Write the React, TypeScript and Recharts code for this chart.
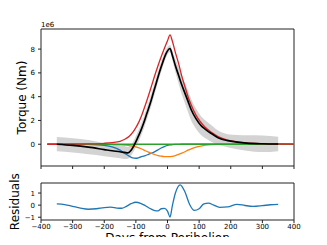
import React from 'react';
import { ComposedChart, Line, Area, XAxis, YAxis, ReferenceLine } from 'recharts';

// ---------- data ----------
const xTicks = [-400, -300, -200, -100, 0, 100, 200, 300, 400];
const torqueTicks = [0, 2, 4, 6, 8];
const residualTicks = [-1, 0, 1];

// model components (units of 1e6 Nm)
const compDays = [-380, -350, -300, -250, -200, -175, -150, -135, -120, -110, -100, -90, -80, -70, -60, -50, -40, -30, -20, -10, 0, 8, 15, 25, 35, 45, 55, 65, 75, 90, 105, 120, 140, 160, 190, 220, 250, 300, 350, 400];
const redVals = [0, 0, 0.01, 0.03, 0.08, 0.14, 0.25, 0.42, 0.7, 1.0, 1.4, 1.9, 2.55, 3.3, 4.1, 4.95, 5.8, 6.6, 7.35, 8.05, 8.7, 9.2, 8.7, 7.7, 6.8, 5.75, 4.85, 4.0, 3.3, 2.45, 1.85, 1.4, 0.98, 0.65, 0.35, 0.2, 0.11, 0.05, 0.02, 0.01];
const blueVals = [0, 0, 0, -0.02, -0.1, -0.22, -0.5, -0.78, -1.02, -1.15, -1.18, -1.12, -1.03, -0.95, -0.85, -0.75, -0.62, -0.47, -0.32, -0.2, -0.1, -0.06, -0.04, -0.02, -0.01, 0, 0, 0, 0, 0, 0, 0, 0, 0, 0, 0, 0, 0, 0, 0];
const orangeVals = [0, 0, 0, 0, -0.01, -0.02, -0.04, -0.07, -0.11, -0.16, -0.22, -0.31, -0.42, -0.55, -0.67, -0.78, -0.87, -0.95, -1.0, -1.04, -1.05, -1.05, -1.02, -0.95, -0.86, -0.75, -0.63, -0.5, -0.39, -0.25, -0.15, -0.08, -0.03, -0.01, 0, 0, 0, 0, 0, 0];
const greenDays = [-380, 400];
const greenVals = [0, 0];

// observed torque with uncertainty band
const obsDays = [-350, -300, -250, -200, -175, -150, -135, -125, -115, -105, -95, -85, -75, -65, -55, -45, -35, -25, -15, -5, 8, 15, 25, 35, 45, 55, 65, 75, 90, 105, 120, 140, 160, 190, 220, 250, 300, 350];
const blackVals = [0, -0.1, -0.25, -0.45, -0.55, -0.63, -0.69, -0.72, -0.5, -0.05, 0.5, 1.1, 1.8, 2.6, 3.4, 4.3, 5.2, 6.1, 6.9, 7.6, 8.05, 7.5, 6.6, 5.8, 5.0, 4.3, 3.6, 2.9, 2.15, 1.6, 1.25, 0.88, 0.55, 0.3, 0.18, 0.1, 0.04, 0.02];
const bandHigh = [0.6, 0.5, 0.35, 0.1, 0.0, -0.08, -0.14, -0.22, -0.05, 0.4, 1.0, 1.6, 2.3, 3.1, 3.9, 4.8, 5.65, 6.55, 7.3, 7.95, 8.35, 7.9, 7.15, 6.5, 5.8, 5.15, 4.5, 3.8, 3.0, 2.4, 2.0, 1.58, 1.15, 0.85, 0.78, 0.75, 0.74, 0.62];
const bandLow = [-0.6, -0.7, -0.85, -1.0, -1.1, -1.18, -1.24, -1.22, -0.95, -0.5, 0.0, 0.6, 1.3, 2.1, 2.9, 3.8, 4.75, 5.65, 6.5, 7.25, 7.75, 7.1, 6.05, 5.1, 4.2, 3.45, 2.7, 2.0, 1.3, 0.8, 0.5, 0.18, -0.05, -0.25, -0.42, -0.55, -0.66, -0.58];

// residuals
const resDays = [-350, -325, -300, -275, -250, -225, -200, -180, -160, -145, -130, -115, -100, -85, -70, -55, -40, -30, -20, -10, 0, 8, 15, 25, 40, 55, 70, 85, 100, 115, 130, 145, 165, 190, 220, 245, 270, 300, 325, 350];
const resVals = [0.1, 0.05, -0.1, -0.25, -0.34, -0.3, -0.2, -0.17, -0.24, -0.26, -0.1, 0.12, 0.24, 0.15, -0.05, -0.28, -0.46, -0.48, -0.3, -0.27, -0.5, -0.98, -0.1, 1.0, 1.68, 1.1, 0.05, -0.44, -0.3, 0.1, 0.16, 0.02, -0.18, -0.15, 0.07, -0.03, -0.1, -0.04, 0.03, 0.06];

// ---------- tables ----------
const pair = (xs: number[], ys: number[]) => xs.map((d, i) => ({ d, v: ys[i] }));
const redData = pair(compDays, redVals);
const blueData = pair(compDays, blueVals);
const orangeData = pair(compDays, orangeVals);
const greenData = pair(greenDays, greenVals);
const blackData = pair(obsDays, blackVals);
const bandData = obsDays.map((d, i) => ({ d, r: [bandLow[i], bandHigh[i]] }));
const resData = pair(resDays, resVals);

const FONT = 'DejaVu Sans';
const tickStyle = { fontSize: 7, fontFamily: FONT, fill: '#000' };
const minus = (v: number) => String(v).replace('-', '\u2212');
const SPINE = '#222';

export default function App() {
  const topDomain: [number, number] = [-1.83, 9.69];
  const resDomain: [number, number] = [-1.23, 1.83];
  return (
    <div style={{ position: 'relative', width: 327, height: 245, margin: -8, background: '#fff', fontFamily: FONT }}>
      <div style={{ position: 'absolute', left: 0, top: 0 }}>
        <ComposedChart width={327} height={172} margin={{ top: 29, right: 33, bottom: 0, left: 0 }}>
          <XAxis
            dataKey="d"
            type="number"
            domain={[-400, 400]}
            ticks={xTicks}
            allowDataOverflow
            height={6}
            tickSize={3}
            tickFormatter={() => ''}
            stroke={SPINE}
            tickLine={{ stroke: SPINE }}
            axisLine={{ stroke: SPINE }}
          />
          <YAxis
            type="number"
            domain={topDomain}
            ticks={torqueTicks}
            allowDataOverflow
            width={41}
            tickSize={3}
            tickMargin={3}
            tick={tickStyle}
            tickFormatter={minus}
            stroke={SPINE}
          />
          <ReferenceLine y={topDomain[1]} stroke={SPINE} />
          <ReferenceLine x={400} stroke={SPINE} />
          <Area data={bandData} dataKey="r" type="monotone" stroke="none" fill="#d3d3d3" fillOpacity={1} isAnimationActive={false} dot={false} activeDot={false} />
          <Line data={blueData} dataKey="v" type="monotone" stroke="#1f77b4" strokeWidth={1.3} dot={false} activeDot={false} isAnimationActive={false} />
          <Line data={orangeData} dataKey="v" type="monotone" stroke="#ff7f0e" strokeWidth={1.3} dot={false} activeDot={false} isAnimationActive={false} />
          <Line data={greenData} dataKey="v" type="linear" stroke="#2ca02c" strokeWidth={1.3} dot={false} activeDot={false} isAnimationActive={false} />
          <Line data={redData} dataKey="v" type="monotone" stroke="#d62728" strokeWidth={1.3} dot={false} activeDot={false} isAnimationActive={false} />
          <Line data={blackData} dataKey="v" type="monotone" stroke="#000" strokeWidth={1.7} dot={false} activeDot={false} isAnimationActive={false} />
        </ComposedChart>
      </div>
      <div style={{ position: 'absolute', left: 0, top: 175 }}>
        <ComposedChart width={327} height={70} margin={{ top: 8, right: 33, bottom: 0, left: 0 }}>
          <XAxis
            dataKey="d"
            type="number"
            domain={[-400, 400]}
            ticks={xTicks}
            allowDataOverflow
            height={25}
            tickSize={3}
            tickMargin={1}
            tick={tickStyle}
            tickFormatter={minus}
            stroke={SPINE}
            interval={0}
          />
          <YAxis
            type="number"
            domain={resDomain}
            ticks={residualTicks}
            allowDataOverflow
            width={41}
            tickSize={3}
            tickMargin={3}
            tick={tickStyle}
            tickFormatter={minus}
            stroke={SPINE}
            interval={0}
          />
          <ReferenceLine y={resDomain[1]} stroke={SPINE} />
          <ReferenceLine x={400} stroke={SPINE} />
          <Line data={resData} dataKey="v" type="monotone" stroke="#1f77b4" strokeWidth={1.3} dot={false} activeDot={false} isAnimationActive={false} />
        </ComposedChart>
      </div>
      <svg width={327} height={245} style={{ position: 'absolute', left: 0, top: 0, pointerEvents: 'none' }}>
        <text x={41} y={26.5} fontSize={7} fontFamily={FONT} fill="#000">1e6</text>
        <text x={22} y={97.5} fontSize={12} fontFamily={FONT} fill="#000" textAnchor="middle" dominantBaseline="central" transform="rotate(-90 22 97.5)">Torque (Nm)</text>
        <text x={15.5} y={201.7} fontSize={12} fontFamily={FONT} fill="#000" textAnchor="middle" dominantBaseline="central" transform="rotate(-90 15.5 201.7)">Residuals</text>
        <text x={167.5} y={242} fontSize={12} fontFamily={FONT} fill="#000" textAnchor="middle">Days from Perihelion</text>
      </svg>
    </div>
  );
}
